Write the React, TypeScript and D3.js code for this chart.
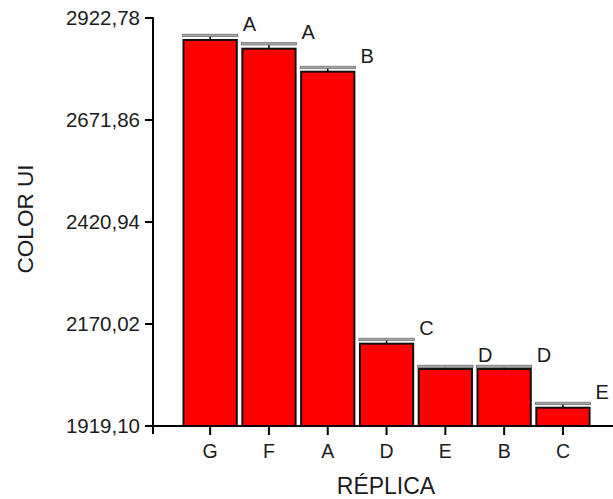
import React from "react";
import * as d3 from "d3";

const categories = ["G", "F", "A", "D", "E", "B", "C"];
const means = [2868.7, 2847.3, 2790.7, 2121.6, 2059.3, 2059.3, 1964.1];
const upper = [2879.3, 2858.8, 2800.5, 2131.4, 2065.0, 2065.0, 1974.0];
const groups = ["A", "A", "B", "C", "D", "D", "E"];
const yTicks = [1919.10, 2170.02, 2420.94, 2671.86, 2922.78];
const yTitle = "COLOR UI";
const xTitle = "RÉPLICA";

export default function App() {
  const W = 613, H = 499;
  const y0 = 1919.10, y1 = 2922.78;
  const y = d3.scaleLinear().domain([y0, y1]).range([426, 18]);
  const x = d3.scaleBand<string>().domain(categories).range([180.75, 592.35]).paddingInner(0.06).paddingOuter(0.03);
  const axisX = 153;
  const font = "'Liberation Sans', Arial, sans-serif";
  const textColor = "#1c1c1c";
  const fmt = (v: number) => v.toFixed(2).replace(".", ",");
  const bw = x.bandwidth();
  return (
    <svg width={W} height={H} style={{ position: "absolute", left: 0, top: 0, background: "#fff" }}>
      {/* bars */}
      {categories.map((c, i) => {
        const bx = x(c)!;
        const top = y(means[i]);
        const cap = y(upper[i]);
        return (
          <g key={c}>
            <rect x={bx + 1} y={top} width={bw - 2} height={y(y0) - top} fill="#ff0000" stroke="#111" strokeWidth={2} />
            <line x1={bx + bw / 2} x2={bx + bw / 2} y1={cap} y2={top} stroke="#000" strokeWidth={1.5} />
            <rect x={bx} y={cap - 1.5} width={bw} height={2.5} fill="#a8a8a8" stroke="#666" strokeWidth={0.7} />
            <text x={bx + bw + 5} y={cap - 5} fontFamily={font} fontSize={20} fill={textColor}>{groups[i]}</text>
          </g>
        );
      })}
      {/* y axis */}
      <line x1={axisX} x2={axisX} y1={y(y1) - 1} y2={434} stroke="#000" strokeWidth={2} />
      {yTicks.map((t) => (
        <g key={t}>
          <line x1={axisX - 8} x2={axisX} y1={y(t)} y2={y(t)} stroke="#000" strokeWidth={2} />
          <text x={axisX - 13} y={y(t)} dy="0.36em" textAnchor="end" fontFamily={font} fontSize={20.5} fill={textColor}>{fmt(t)}</text>
        </g>
      ))}
      {/* x axis */}
      <line x1={axisX} x2={W} y1={y(y0)} y2={y(y0)} stroke="#000" strokeWidth={2} />
      {categories.map((c) => {
        const cx = x(c)! + bw / 2;
        return (
          <g key={c}>
            <line x1={cx} x2={cx} y1={y(y0)} y2={y(y0) + 9} stroke="#000" strokeWidth={2} />
            <text x={cx} y={458} textAnchor="middle" fontFamily={font} fontSize={19.5} fill={textColor}>{c}</text>
          </g>
        );
      })}
      <text x={386} y={494} textAnchor="middle" fontFamily={font} fontSize={23} fill={textColor}>{xTitle}</text>
      <text transform={`translate(33,219) rotate(-90)`} textAnchor="middle" fontFamily={font} fontSize={22.5} fill={textColor}>{yTitle}</text>
    </svg>
  );
}
